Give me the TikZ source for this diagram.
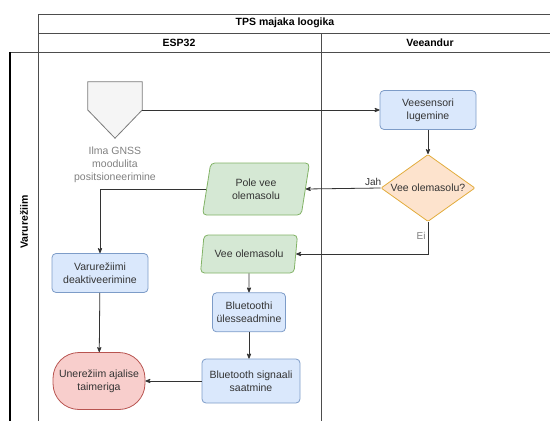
\documentclass[tikz,border=0pt]{standalone}
\usepackage{fontspec}
\setmainfont{Liberation Sans}
\usepackage{xcolor}
\definecolor{PROCESSCOLOR}{HTML}{DAE8FC}
\definecolor{PROCESSLINE}{HTML}{7D9CC8}
\definecolor{DATACOLOR}{HTML}{D5E8D4}
\definecolor{DATALINE}{HTML}{82B366}
\definecolor{DECISIONCOLOR}{HTML}{FDE3CD}
\definecolor{DECISIONLINE}{HTML}{E2AC3C}
\definecolor{ENDCOLOR}{HTML}{F8CECC}
\definecolor{ENDLINE}{HTML}{B85450}
\definecolor{OFFPAGECOLOR}{HTML}{F5F5F5}
\definecolor{OFFPAGELINE}{HTML}{7A7A7A}
\definecolor{TEXTCOLOR}{HTML}{333333}
\definecolor{POOLLINE}{HTML}{4D4D4D}
\usepackage{tikz}
\usetikzlibrary{shapes,arrows,positioning}
\tikzset{
  basic-style/.style = {
    rectangle, rounded corners=4pt, draw=#1, line width=0.8pt,
    text=TEXTCOLOR, align=center,
    font=\fontsize{10.5}{13}\selectfont,
    inner sep=1pt
  },
  process-style/.style = {
    basic-style=PROCESSLINE, fill=PROCESSCOLOR,
    minimum width=96pt, minimum height=39pt
  },
  data-style/.style = {
    basic-style=DATALINE, fill=DATACOLOR,
    trapezium, trapezium left angle=70, trapezium right angle=110,
    trapezium stretches body
  },
  decision-style/.style = {
    basic-style=DECISIONLINE, fill=DECISIONCOLOR,
    diamond, rounded corners=1pt, aspect=1.4, inner sep=0pt,
    minimum width=94pt, minimum height=67pt
  },
  end-style/.style = {
    basic-style=ENDLINE, fill=ENDCOLOR, rounded corners=26pt,
    minimum width=92pt, minimum height=57pt
  },
  offpage-style/.style = {
    draw=OFFPAGELINE, fill=OFFPAGECOLOR, line width=0.8pt
  },
  note-style/.style = {
    text=gray, align=center, inner sep=0pt,
    font=\fontsize{10.5}{13}\selectfont
  },
  label-style/.style = {
    text=#1, inner sep=2pt, font=\fontsize{10}{12}\selectfont
  },
  label-style/.default = TEXTCOLOR,
  header-style/.style = {
    font=\fontsize{10.5}{13}\selectfont\bfseries, inner sep=1pt
  },
  pool-style/.style = {
    draw=POOLLINE, line width=0.8pt
  },
  connector-style/.style = {
    draw=black!80, ->, >=stealth', line width=0.8pt
  },
  every edge/.style = {connector-style}
}

\begin{document}
\begin{tikzpicture}[x=1pt, y=-1pt]
  \clip (0,0) rectangle (550,421);
  % pool and lanes
  \draw[pool-style] (38,421) -- (38,14) -- (550,14);
  \draw[pool-style] (38,33) -- (550,33);
  \draw[pool-style] (10,52) -- (550,52);
  \draw[pool-style] (321,33) -- (321,421);
  \draw[pool-style, draw=black, line width=1.4pt] (10,52) -- (10,421);
  \node[header-style] (pool) at (285,23) {TPS majaka loogika};
  \node[header-style] (esp) at (179,43) {ESP32};
  \node[header-style] (veeandur) at (430,43) {Veeandur};
  \node[header-style, rotate=90] (varurezhiim) at (24,222) {Varurežiim};

  % start without GNSS
  \node[minimum width=54pt, minimum height=56pt] (offpage) at (115,110) {};
  \draw[offpage-style] (offpage.north west) -- (offpage.north east)
    -- (offpage.east) -- (offpage.south) -- (offpage.west) -- cycle;
  \node[note-style, below=8pt of offpage] (gnss)
    {Ilma GNSS\\moodulita\\positsioneerimine};

  \node[process-style] (veesensor) at (428,110) {Veesensori\\lugemine};
  \node[decision-style] (olemas) at (428,188) {Vee olemasolu?};
  \node[data-style, minimum width=107pt, minimum height=52pt] (pole) at (256,189)
    {Pole vee\\olemasolu};
  \node[data-style, minimum width=97pt, minimum height=38pt] (vee) at (249,254)
    {Vee olemasolu};
  \node[process-style] (deakt) at (100,273) {Varurežiimi\\deaktiveerimine};
  \node[process-style, minimum width=73pt, below=19pt of vee] (btseade)
    {Bluetoothi\\ülesseadmine};
  \node[process-style, minimum width=98pt, minimum height=44pt] (btsignaal) at (251,381)
    {Bluetooth signaali\\saatmine};
  \node[end-style] (unerezhiim) at (99,381) {Unerežiim ajalise\\taimeriga};

  \path (offpage.east) edge (veesensor.west);
  \path (veesensor) edge (olemas);
  \path (olemas.west) edge node[label-style, above, pos=0.1]{Jah} (pole.east);
  \draw[connector-style] (olemas.south) |- node[label-style=gray, left, pos=0.22]{Ei} (vee.east);
  \draw[connector-style] (pole.west) -| (deakt.north);
  \path (deakt) edge (unerezhiim);
  \path (vee) edge (btseade);
  \path (btseade.south) edge (btseade.south |- btsignaal.north);
  \path (btsignaal) edge (unerezhiim);
\end{tikzpicture}
\end{document}
